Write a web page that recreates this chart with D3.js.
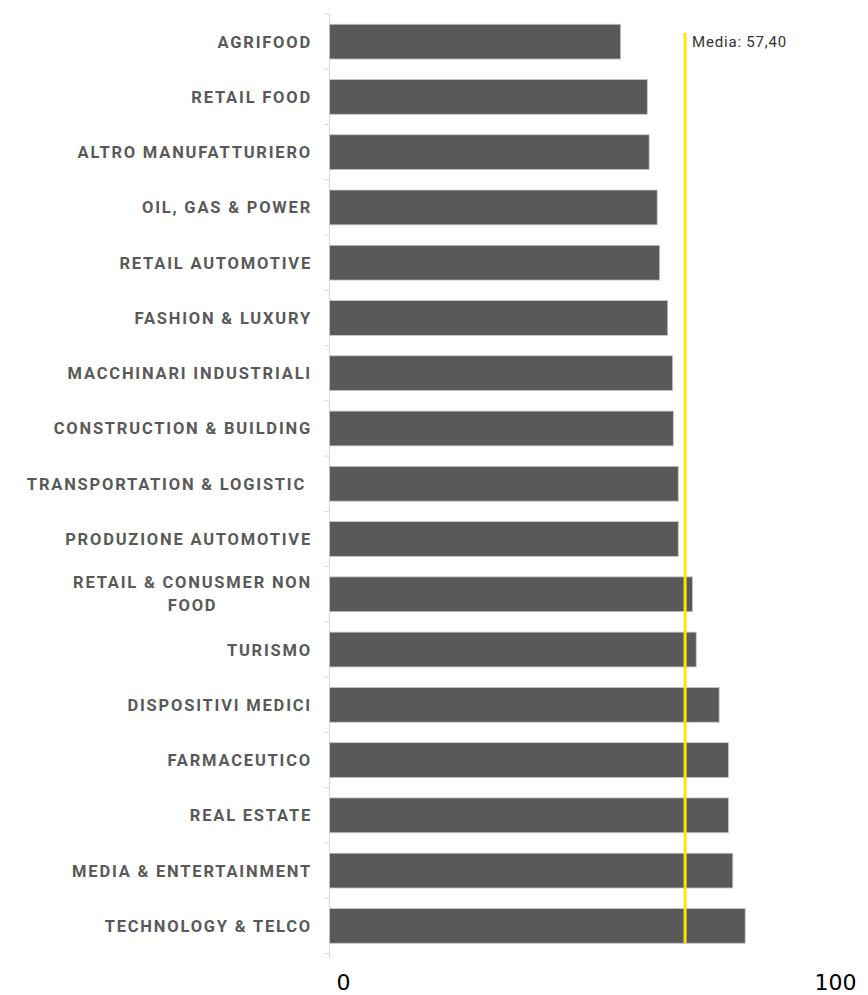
<!DOCTYPE html>
<html>
<head>
<meta charset="utf-8">
<script src="https://cdn.jsdelivr.net/npm/d3@7"></script>
<style>
	body { margin: 0; background: #fff; }
	svg { display: block; }
	.cat text { font-family: Roboto, sans-serif; font-weight: bold; font-size: 16.5px; fill: #595959; letter-spacing: 1.8px; }
	.xlab text { font-family: "DejaVu Sans", sans-serif; font-size: 22px; fill: #000; }
</style>
</head>
<body>
<div id="chart"></div>
<script>
var width = 868,
	height = 995;

var categories = ["AGRIFOOD", "RETAIL FOOD", "ALTRO MANUFATTURIERO", "OIL, GAS & POWER",
	"RETAIL AUTOMOTIVE", "FASHION & LUXURY", "MACCHINARI INDUSTRIALI", "CONSTRUCTION & BUILDING",
	"TRANSPORTATION & LOGISTIC ", "PRODUZIONE AUTOMOTIVE", "RETAIL & CONUSMER NON FOOD",
	"TURISMO", "DISPOSITIVI MEDICI", "FARMACEUTICO", "REAL ESTATE", "MEDIA & ENTERTAINMENT",
	"TECHNOLOGY & TELCO"];
var values = [47.0, 51.3, 51.6, 52.9, 53.3, 54.6, 55.4, 55.5, 56.3, 56.3, 58.6, 59.2, 62.9, 64.4, 64.4, 65.1, 67.1];
var media = 57.40;
var tickLabels = ["0", "100"];

var data = categories.map(function (c, i) { return { category: c, value: values[i] }; });

var svg = d3.select("#chart").append("svg")
	.attr("width", width)
	.attr("height", height);

var x = d3.scaleLinear().domain([0, 100]).range([329.5, 949]);
var y = d3.scaleBand().domain(categories).range([14, 953.5]).paddingInner(0.37).paddingOuter(0.185);

// y axis line + small ticks between categories
var axisG = svg.append("g");
axisG.append("line")
	.attr("x1", x(0)).attr("x2", x(0))
	.attr("y1", 14).attr("y2", 958)
	.attr("stroke", "#d9d9d9").attr("stroke-width", 1);

var step = y.step();
var bounds = d3.range(categories.length + 1).map(function (i) { return 14 + i * step; });
axisG.selectAll("line.tk")
	.data(bounds)
	.enter().append("line")
	.attr("class", "tk")
	.attr("x1", x(0) - 5).attr("x2", x(0))
	.attr("y1", function (d) { return d; }).attr("y2", function (d) { return d; })
	.attr("stroke", "#d9d9d9");

// bars
svg.append("g").selectAll("rect")
	.data(data)
	.enter().append("rect")
	.attr("x", x(0))
	.attr("y", function (d) { return y(d.category); })
	.attr("width", function (d) { return x(d.value) - x(0); })
	.attr("height", y.bandwidth())
	.attr("fill", "#595959")
	.attr("stroke", "#c8c8c8")
	.attr("stroke-width", 0.8);

// category labels (wrap the long one like excel does)
var labelX = 312;
var cat = svg.append("g").attr("class", "cat");
data.forEach(function (d) {
	var cy = y(d.category) + y.bandwidth() / 2;
	if (d.category == "RETAIL & CONUSMER NON FOOD") {
		var t1 = cat.append("text")
			.attr("x", labelX).attr("y", cy - 6)
			.attr("text-anchor", "end")
			.text("RETAIL & CONUSMER NON");
		var w = t1.node().getComputedTextLength();
		cat.append("text")
			.attr("x", labelX - w / 2).attr("y", cy + 17)
			.attr("text-anchor", "middle")
			.text("FOOD");
	} else {
		cat.append("text")
			.attr("x", labelX).attr("y", cy + 6)
			.attr("text-anchor", "end")
			.attr("xml:space", "preserve")
			.text(d.category);
	}
});

// media line
svg.append("line")
	.attr("x1", x(media)).attr("x2", x(media))
	.attr("y1", 33).attr("y2", 943)
	.attr("stroke", "#ffe600")
	.attr("stroke-width", 3);

svg.append("text")
	.attr("x", x(media) + 7)
	.attr("y", 47)
	.attr("font-family", "Roboto, sans-serif")
	.attr("font-size", "15px")
	.attr("letter-spacing", "0.8px")
	.attr("fill", "#333")
	.text("Media: " + d3.format(".2f")(media).replace(".", ","));

// bottom labels
var labScale = d3.scalePoint().domain(tickLabels).range([343, 835]);
svg.append("g")
	.attr("class", "xlab")
	.attr("transform", "translate(0,990)")
	.call(d3.axisBottom(labScale).tickSize(0).tickPadding(0))
	.call(function (g) { g.select(".domain").remove(); })
	.selectAll("text")
	.attr("dy", 0);
</script>
</body>
</html>
